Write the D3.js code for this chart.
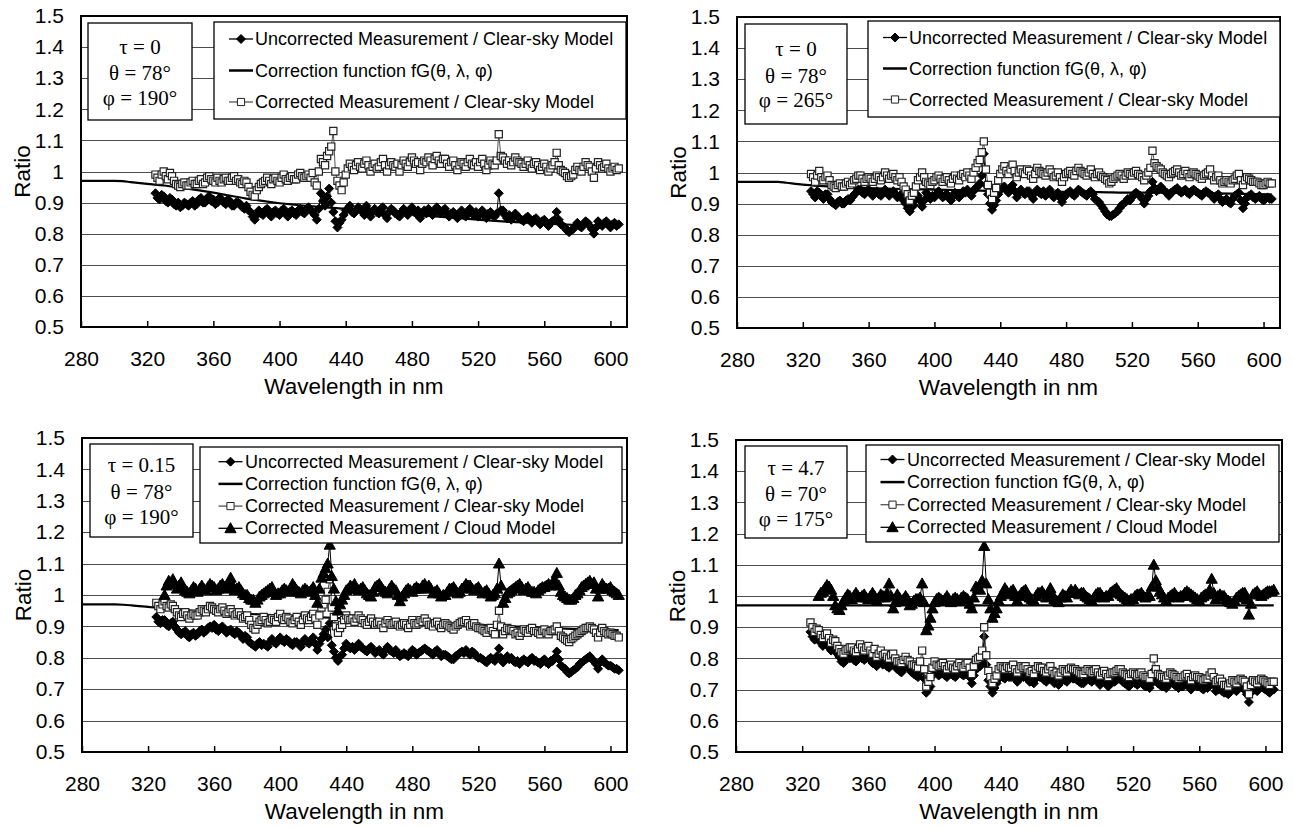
<!DOCTYPE html>
<html>
<head>
<meta charset="utf-8">
<script src="https://cdn.jsdelivr.net/npm/d3@7"></script>
<style>
  body { margin: 0; background: #fff; }
  svg text { font-family: "Liberation Sans", Arial, sans-serif; fill: #000; }
  svg text.serif { font-family: "Liberation Serif", "Times New Roman", serif; }
</style>
</head>
<body>
<svg id="chart" width="1294" height="827"></svg>
<script>
// measurement wavelengths (nm), 16 per row = 40 nm per row
const wavelengths = [
  325, 327.5, 330, 332.5, 335, 337.5, 340, 342.5, 345, 347.5, 350, 352.5, 355, 357.5, 360, 362.5,
  365, 367.5, 370, 372.5, 375, 377.5, 380, 382.5, 385, 387.5, 390, 392.5, 395, 397.5, 400, 402.5,
  405, 407.5, 410, 412.5, 415, 417.5, 420, 422.5, 425, 427.5, 430, 432.5, 435, 437.5, 440, 442.5,
  445, 447.5, 450, 452.5, 455, 457.5, 460, 462.5, 465, 467.5, 470, 472.5, 475, 477.5, 480, 482.5,
  485, 487.5, 490, 492.5, 495, 497.5, 500, 502.5, 505, 507.5, 510, 512.5, 515, 517.5, 520, 522.5,
  525, 527.5, 530, 532.5, 535, 537.5, 540, 542.5, 545, 547.5, 550, 552.5, 555, 557.5, 560, 562.5,
  565, 567.5, 570, 572.5, 575, 577.5, 580, 582.5, 585, 587.5, 590, 592.5, 595, 597.5, 600, 602.5,
  605];
// the in-between samples
const wavelengthsB = [
  326.25, 328.75, 331.25, 333.75, 336.25, 338.75, 341.25, 343.75, 346.25, 348.75, 351.25, 353.75, 356.25, 358.75, 361.25, 363.75,
  366.25, 368.75, 371.25, 373.75, 376.25, 378.75, 381.25, 383.75, 386.25, 388.75, 391.25, 393.75, 396.25, 398.75, 401.25, 403.75,
  406.25, 408.75, 411.25, 413.75, 416.25, 418.75, 421.25, 423.75, 426.25, 428.75, 431.25, 433.75, 436.25, 438.75, 441.25, 443.75,
  446.25, 448.75, 451.25, 453.75, 456.25, 458.75, 461.25, 463.75, 466.25, 468.75, 471.25, 473.75, 476.25, 478.75, 481.25, 483.75,
  486.25, 488.75, 491.25, 493.75, 496.25, 498.75, 501.25, 503.75, 506.25, 508.75, 511.25, 513.75, 516.25, 518.75, 521.25, 523.75,
  526.25, 528.75, 531.25, 533.75, 536.25, 538.75, 541.25, 543.75, 546.25, 548.75, 551.25, 553.75, 556.25, 558.75, 561.25, 563.75,
  566.25, 568.75, 571.25, 573.75, 576.25, 578.75, 581.25, 583.75, 586.25, 588.75, 591.25, 593.75, 596.25, 598.75, 601.25, 603.75];

// panel 1: tau = 0, theta = 78, phi = 190
const unc1 = [
  0.93, 0.91, 0.92, 0.9, 0.91, 0.89, 0.885, 0.9, 0.89, 0.905, 0.895, 0.915, 0.9, 0.92, 0.91, 0.9,
  0.91, 0.895, 0.905, 0.89, 0.9, 0.885, 0.89, 0.87, 0.845, 0.875, 0.86, 0.88, 0.855, 0.875, 0.86, 0.88,
  0.855, 0.875, 0.86, 0.88, 0.865, 0.885, 0.87, 0.845, 0.93, 0.89, 0.945, 0.87, 0.82, 0.845, 0.875, 0.89,
  0.865, 0.885, 0.87, 0.89, 0.855, 0.88, 0.865, 0.885, 0.85, 0.88, 0.865, 0.855, 0.88, 0.86, 0.885, 0.865,
  0.85, 0.875, 0.88, 0.86, 0.885, 0.865, 0.88, 0.855, 0.87, 0.85, 0.875, 0.855, 0.88, 0.86, 0.855, 0.875,
  0.85, 0.87, 0.855, 0.93, 0.875, 0.85, 0.845, 0.865, 0.85, 0.84, 0.855, 0.835, 0.85, 0.83, 0.845, 0.825,
  0.84, 0.87, 0.83, 0.82, 0.805, 0.815, 0.835, 0.82, 0.84, 0.825, 0.8, 0.84, 0.825, 0.84, 0.82, 0.835,
  0.83];
const unc1B = [
  0.915, 0.925, 0.905, 0.915, 0.895, 0.9, 0.89, 0.895, 0.9, 0.89, 0.91, 0.9, 0.915, 0.905, 0.895, 0.915,
  0.9, 0.91, 0.89, 0.9, 0.895, 0.88, 0.875, 0.855, 0.86, 0.865, 0.875, 0.865, 0.87, 0.865, 0.875, 0.865,
  0.87, 0.865, 0.875, 0.87, 0.88, 0.875, 0.86, 0.88, 0.905, 0.92, 0.9, 0.84, 0.835, 0.86, 0.88, 0.87,
  0.875, 0.88, 0.86, 0.875, 0.87, 0.87, 0.88, 0.86, 0.87, 0.875, 0.86, 0.87, 0.87, 0.875, 0.87, 0.875,
  0.865, 0.865, 0.87, 0.875, 0.87, 0.875, 0.865, 0.865, 0.86, 0.865, 0.865, 0.87, 0.865, 0.87, 0.865, 0.86,
  0.865, 0.86, 0.865, 0.875, 0.86, 0.86, 0.855, 0.855, 0.845, 0.85, 0.845, 0.845, 0.84, 0.84, 0.835, 0.835,
  0.845, 0.845, 0.825, 0.81, 0.81, 0.825, 0.825, 0.83, 0.835, 0.815, 0.82, 0.83, 0.835, 0.83, 0.83, 0.825];
const cor1 = [
  0.99, 0.97, 1.0, 0.975, 0.985, 0.96, 0.95, 0.965, 0.955, 0.97, 0.96, 0.975, 0.965, 0.985, 0.97, 0.98,
  0.965, 0.98, 0.97, 0.985, 0.975, 0.96, 0.965, 0.935, 0.92, 0.95, 0.965, 0.98, 0.96, 0.98, 0.965, 0.99,
  0.97, 0.985, 0.975, 0.995, 0.98, 0.99, 0.995, 0.955, 1.04, 1.02, 1.065, 1.13, 0.97, 0.94, 0.99, 1.025,
  1.005, 1.03, 1.01, 1.035, 1.0, 1.025, 1.015, 1.04, 1.0, 1.03, 1.015, 1.0, 1.035, 1.015, 1.045, 1.025,
  1.005, 1.035, 1.045, 1.02, 1.05, 1.025, 1.04, 1.015, 1.035, 1.005, 1.03, 1.015, 1.04, 1.02, 1.015, 1.04,
  1.005, 1.035, 1.02, 1.12, 1.045, 1.025, 1.02, 1.045, 1.03, 1.015, 1.035, 1.01, 1.03, 1.005, 1.025, 1.0,
  1.02, 1.06, 1.005, 0.995, 0.98, 0.99, 1.015, 1.0, 1.03, 1.015, 0.98, 1.03, 1.01, 1.025, 1.0, 1.015,
  1.01];
const cor1B = [
  0.98, 0.99, 0.985, 0.995, 0.97, 0.955, 0.96, 0.955, 0.965, 0.96, 0.97, 0.96, 0.98, 0.975, 0.965, 0.97,
  0.975, 0.97, 0.98, 0.97, 0.965, 0.97, 0.95, 0.925, 0.94, 0.96, 0.97, 0.97, 0.975, 0.97, 0.98, 0.975,
  0.98, 0.975, 0.99, 0.985, 0.985, 0.98, 0.965, 1.0, 1.03, 1.05, 1.08, 1.0, 0.955, 0.965, 1.01, 1.015,
  1.02, 1.015, 1.025, 1.02, 1.015, 1.01, 1.03, 1.02, 1.02, 1.02, 1.025, 1.02, 1.025, 1.03, 1.035, 1.03,
  1.025, 1.03, 1.035, 1.04, 1.035, 1.04, 1.025, 1.03, 1.02, 1.02, 1.025, 1.03, 1.025, 1.03, 1.03, 1.025,
  1.02, 1.025, 1.035, 1.05, 1.035, 1.035, 1.03, 1.035, 1.025, 1.025, 1.02, 1.025, 1.02, 1.015, 1.015, 1.01,
  1.03, 1.02, 1.0, 0.985, 0.985, 1.005, 1.005, 1.015, 1.02, 1.0, 1.01, 1.02, 1.015, 1.01, 1.01, 1.005];
const fgWl1 = [280, 300, 305, 310, 320, 330, 340, 360, 380, 400, 420, 440, 460, 480, 500, 520, 540, 560, 580, 605];
const fg1 = [0.97, 0.97, 0.969, 0.966, 0.96, 0.955, 0.948, 0.932, 0.913, 0.898, 0.888, 0.88, 0.87, 0.862, 0.853,
  0.845, 0.838, 0.833, 0.828, 0.823];

// panel 2: tau = 0, theta = 78, phi = 265
const unc2 = [
  0.94, 0.92, 0.935, 0.915, 0.93, 0.905, 0.895, 0.91, 0.9, 0.915, 0.92, 0.935, 0.945, 0.93, 0.945, 0.925,
  0.94, 0.925, 0.945, 0.925, 0.94, 0.92, 0.93, 0.9, 0.875, 0.895, 0.925, 0.89, 0.935, 0.915, 0.92, 0.94,
  0.92, 0.93, 0.91, 0.935, 0.92, 0.94, 0.945, 0.925, 0.95, 0.965, 1.06, 0.93, 0.88, 0.91, 0.945, 0.955,
  0.935, 0.96, 0.92, 0.945, 0.93, 0.94, 0.915, 0.945, 0.93, 0.925, 0.945, 0.92, 0.935, 0.905, 0.93, 0.94,
  0.925, 0.945, 0.935, 0.925, 0.94, 0.915, 0.905, 0.885, 0.865, 0.86, 0.87, 0.885, 0.9, 0.915, 0.92, 0.935,
  0.925, 0.9, 0.925, 0.97, 0.94, 0.955, 0.94, 0.925, 0.94, 0.95, 0.935, 0.945, 0.93, 0.945, 0.935, 0.925,
  0.94, 0.93, 0.915, 0.93, 0.905, 0.915, 0.9, 0.925, 0.935, 0.885, 0.92, 0.93, 0.915, 0.925, 0.91, 0.92,
  0.915];
const unc2B = [
  0.93, 0.94, 0.925, 0.93, 0.915, 0.9, 0.905, 0.9, 0.91, 0.91, 0.93, 0.945, 0.935, 0.94, 0.935, 0.935,
  0.93, 0.935, 0.935, 0.935, 0.93, 0.925, 0.91, 0.885, 0.89, 0.915, 0.91, 0.91, 0.925, 0.925, 0.93, 0.93,
  0.925, 0.92, 0.925, 0.925, 0.93, 0.935, 0.935, 0.94, 0.955, 0.99, 0.96, 0.9, 0.895, 0.93, 0.95, 0.945,
  0.95, 0.94, 0.935, 0.935, 0.94, 0.925, 0.935, 0.935, 0.94, 0.935, 0.93, 0.93, 0.92, 0.92, 0.935, 0.93,
  0.935, 0.94, 0.93, 0.935, 0.93, 0.91, 0.895, 0.875, 0.86, 0.865, 0.875, 0.895, 0.905, 0.91, 0.93, 0.93,
  0.915, 0.915, 0.94, 0.95, 0.945, 0.945, 0.935, 0.935, 0.945, 0.94, 0.94, 0.935, 0.94, 0.94, 0.93, 0.935,
  0.935, 0.925, 0.925, 0.915, 0.91, 0.905, 0.915, 0.93, 0.91, 0.9, 0.925, 0.92, 0.92, 0.915, 0.915, 0.915];
const cor2 = [
  0.995, 0.97, 1.005, 0.975, 0.99, 0.96, 0.95, 0.965, 0.955, 0.97, 0.965, 0.98, 0.99, 0.97, 0.985, 0.97,
  0.99, 0.975, 1.0, 0.98, 0.995, 0.975, 0.97, 0.945, 0.91, 0.935, 0.975, 1.0, 0.97, 0.96, 0.975, 0.99,
  0.97, 0.985, 0.965, 0.99, 0.975, 0.995, 1.0, 0.98, 1.015, 1.04, 1.1, 0.96, 0.915, 0.95, 0.995, 1.02,
  0.995, 1.025, 0.985, 1.01, 0.995, 1.005, 0.98, 1.015, 1.0, 0.99, 1.01, 0.985, 1.0, 0.97, 0.995, 1.005,
  0.99, 1.015, 1.0, 0.99, 1.01, 0.985, 1.0, 0.985, 0.975, 0.97, 0.985, 0.995, 0.98, 1.0, 0.99, 1.005,
  0.99, 0.975, 1.0, 1.07, 1.02, 1.01, 0.995, 0.985, 1.0, 1.01, 0.99, 1.005, 0.985, 1.0, 0.99, 0.98,
  0.995, 1.01, 0.975, 0.99, 0.965, 0.975, 0.965, 0.98, 0.995, 0.96, 0.985, 0.975, 0.97, 0.965, 0.96, 0.97,
  0.965];
const cor2B = [
  0.985, 0.99, 0.985, 0.985, 0.975, 0.955, 0.96, 0.955, 0.965, 0.96, 0.975, 0.99, 0.98, 0.98, 0.98, 0.98,
  0.985, 0.985, 0.99, 0.99, 0.985, 0.985, 0.955, 0.93, 0.925, 0.955, 0.985, 0.985, 0.965, 0.97, 0.985, 0.98,
  0.98, 0.975, 0.98, 0.98, 0.99, 0.985, 0.99, 1.0, 1.03, 1.065, 1.01, 0.935, 0.935, 0.975, 1.01, 1.005,
  1.01, 1.005, 1.0, 1.0, 1.01, 0.99, 0.995, 1.005, 0.995, 1.0, 1.0, 0.99, 0.985, 0.985, 1.0, 0.995,
  1.005, 1.005, 0.995, 1.0, 0.995, 0.995, 0.99, 0.98, 0.965, 0.98, 0.99, 0.99, 0.99, 0.995, 1.0, 0.995,
  0.985, 0.99, 1.015, 1.03, 1.015, 1.0, 0.99, 0.995, 1.005, 1.0, 0.995, 0.995, 0.995, 0.995, 0.985, 0.99,
  1.0, 0.99, 0.985, 0.975, 0.97, 0.97, 0.975, 0.99, 0.975, 0.975, 0.98, 0.97, 0.97, 0.96, 0.965, 0.965];
const fgWl2 = [280, 300, 305, 310, 320, 330, 340, 360, 380, 400, 420, 440, 460, 480, 500, 520, 540, 560, 580, 605];
const fg2 = [0.97, 0.97, 0.97, 0.967, 0.961, 0.957, 0.954, 0.95, 0.947, 0.945, 0.943, 0.94, 0.94, 0.938, 0.937,
  0.935, 0.935, 0.934, 0.932, 0.93];

// panel 3: tau = 0.15, theta = 78, phi = 190
const unc3 = [
  0.93, 0.91, 0.92, 0.9, 0.915, 0.89, 0.875, 0.885, 0.865, 0.88, 0.875, 0.89, 0.885, 0.9, 0.905, 0.885,
  0.9, 0.88, 0.89, 0.875, 0.88, 0.86, 0.865, 0.845, 0.835, 0.85, 0.845, 0.835, 0.86, 0.845, 0.865, 0.85,
  0.855, 0.84, 0.85, 0.835, 0.86, 0.845, 0.865, 0.825, 0.86, 0.89, 0.91, 0.82, 0.79, 0.81, 0.845, 0.83,
  0.825, 0.845, 0.83, 0.82, 0.835, 0.815, 0.825, 0.81, 0.835, 0.82, 0.825, 0.805, 0.815, 0.805, 0.825, 0.81,
  0.82, 0.83, 0.82, 0.81, 0.825, 0.805, 0.81, 0.8, 0.795, 0.81, 0.82, 0.825, 0.81, 0.815, 0.8, 0.795,
  0.785, 0.8, 0.79, 0.83, 0.785, 0.805, 0.8, 0.785, 0.78, 0.795, 0.785, 0.8, 0.79, 0.78, 0.795, 0.78,
  0.79, 0.82, 0.775, 0.765, 0.75, 0.76, 0.77, 0.785, 0.795, 0.805, 0.79, 0.765, 0.795, 0.78, 0.775, 0.765,
  0.76];
const unc3B = [
  0.915, 0.92, 0.905, 0.91, 0.9, 0.88, 0.88, 0.87, 0.875, 0.87, 0.885, 0.88, 0.895, 0.895, 0.89, 0.895,
  0.89, 0.885, 0.88, 0.885, 0.87, 0.87, 0.85, 0.84, 0.845, 0.84, 0.84, 0.85, 0.85, 0.855, 0.855, 0.86,
  0.845, 0.85, 0.845, 0.85, 0.85, 0.855, 0.845, 0.845, 0.875, 0.865, 0.84, 0.8, 0.805, 0.83, 0.835, 0.835,
  0.835, 0.835, 0.825, 0.83, 0.825, 0.82, 0.815, 0.825, 0.825, 0.815, 0.815, 0.81, 0.81, 0.815, 0.82, 0.815,
  0.825, 0.825, 0.815, 0.82, 0.815, 0.81, 0.805, 0.795, 0.805, 0.815, 0.815, 0.815, 0.82, 0.805, 0.8, 0.79,
  0.795, 0.795, 0.805, 0.8, 0.795, 0.795, 0.79, 0.79, 0.79, 0.79, 0.795, 0.79, 0.785, 0.79, 0.785, 0.79,
  0.8, 0.795, 0.77, 0.755, 0.755, 0.765, 0.78, 0.79, 0.8, 0.795, 0.78, 0.785, 0.785, 0.775, 0.77, 0.765];
const cor3 = [
  0.975, 0.955, 0.98, 0.96, 0.965, 0.945, 0.93, 0.945, 0.925, 0.94, 0.935, 0.955, 0.945, 0.965, 0.955, 0.945,
  0.96, 0.94, 0.955, 0.935, 0.945, 0.925, 0.935, 0.905, 0.89, 0.915, 0.93, 0.91, 0.925, 0.915, 0.94, 0.92,
  0.925, 0.91, 0.93, 0.905, 0.935, 0.92, 0.94, 0.905, 0.96, 0.985, 1.05, 0.93, 0.88, 0.905, 0.935, 0.92,
  0.915, 0.935, 0.92, 0.905, 0.925, 0.905, 0.915, 0.895, 0.92, 0.905, 0.915, 0.9, 0.91, 0.895, 0.92, 0.905,
  0.92, 0.925, 0.905, 0.9, 0.915, 0.895, 0.91, 0.9, 0.89, 0.905, 0.915, 0.92, 0.9, 0.91, 0.895, 0.89,
  0.88, 0.895, 0.875, 0.95, 0.875, 0.895, 0.89, 0.875, 0.87, 0.89, 0.88, 0.895, 0.885, 0.875, 0.89, 0.875,
  0.885, 0.9, 0.87, 0.86, 0.85, 0.865, 0.875, 0.885, 0.895, 0.9, 0.89, 0.865, 0.895, 0.88, 0.88, 0.87,
  0.865];
const cor3B = [
  0.965, 0.97, 0.965, 0.97, 0.955, 0.935, 0.94, 0.935, 0.935, 0.935, 0.945, 0.95, 0.955, 0.96, 0.95, 0.955,
  0.95, 0.945, 0.945, 0.94, 0.935, 0.93, 0.92, 0.895, 0.905, 0.92, 0.92, 0.915, 0.92, 0.93, 0.925, 0.93,
  0.915, 0.92, 0.915, 0.92, 0.925, 0.93, 0.925, 0.935, 0.97, 1.01, 0.96, 0.9, 0.895, 0.92, 0.925, 0.925,
  0.925, 0.925, 0.91, 0.915, 0.915, 0.91, 0.905, 0.91, 0.91, 0.91, 0.905, 0.905, 0.905, 0.905, 0.91, 0.91,
  0.915, 0.915, 0.905, 0.91, 0.905, 0.905, 0.905, 0.895, 0.9, 0.91, 0.915, 0.91, 0.905, 0.9, 0.895, 0.885,
  0.89, 0.885, 0.905, 0.9, 0.885, 0.89, 0.885, 0.88, 0.88, 0.885, 0.89, 0.885, 0.88, 0.885, 0.88, 0.885,
  0.89, 0.885, 0.865, 0.855, 0.86, 0.87, 0.88, 0.89, 0.895, 0.895, 0.88, 0.88, 0.885, 0.875, 0.875, 0.87];
const cloud3 = [
  null, null, 1.0, 1.045, 1.05, 1.02, 1.04, 1.015, 1.005, 1.025, 1.01, 1.03, 1.015, 1.035, 1.025, 1.02,
  1.035, 1.02, 1.055, 1.015, 1.025, 1.005, 1.0, 0.985, 0.975, 0.995, 1.005, 1.015, 1.025, 1.0, 1.005, 1.02,
  1.01, 1.035, 1.015, 1.005, 1.02, 1.01, 1.025, 0.975, 1.055, 1.085, 1.16, 1.02, 0.95, 0.985, 1.015, 1.03,
  1.035, 1.015, 1.025, 1.005, 0.995, 1.025, 1.035, 1.015, 1.005, 1.03, 1.015, 0.98, 1.005, 1.02, 1.01, 1.025,
  1.02, 1.035, 1.03, 1.005, 1.015, 0.995, 1.0, 1.02, 1.025, 1.005, 1.02, 1.035, 1.03, 1.015, 1.025, 1.005,
  1.015, 0.995, 1.005, 1.1, 0.975, 1.005, 1.015, 1.025, 1.035, 1.015, 1.025, 1.01, 1.005, 1.02, 1.025, 1.035,
  1.04, 1.07, 1.01, 0.995, 0.985, 0.99, 1.005, 1.025, 1.035, 1.045, 1.04, 0.995, 1.035, 1.02, 1.025, 1.01,
  1.0];
const cloud3B = [
  null, null, 1.03, 1.04, 1.035, 1.03, 1.025, 1.01, 1.015, 1.02, 1.02, 1.02, 1.025, 1.03, 1.015, 1.03,
  1.025, 1.035, 1.03, 1.02, 1.015, 1.0, 0.99, 0.985, 0.985, 1.0, 1.01, 1.02, 1.01, 1.005, 1.015, 1.015,
  1.02, 1.025, 1.01, 1.015, 1.015, 1.015, 1.0, 1.02, 1.07, 1.1, 1.06, 0.98, 0.97, 1.0, 1.02, 1.025,
  1.02, 1.02, 1.015, 1.0, 1.01, 1.03, 1.025, 1.01, 1.02, 1.02, 1.0, 0.995, 1.015, 1.015, 1.02, 1.02,
  1.03, 1.025, 1.02, 1.01, 1.005, 1.0, 1.01, 1.02, 1.015, 1.01, 1.025, 1.03, 1.02, 1.02, 1.015, 1.01,
  1.005, 1.0, 1.02, 1.03, 0.99, 1.01, 1.02, 1.03, 1.025, 1.02, 1.015, 1.01, 1.015, 1.025, 1.03, 1.03,
  1.045, 1.03, 1.0, 0.99, 0.985, 1.0, 1.015, 1.03, 1.04, 1.035, 1.02, 1.02, 1.025, 1.02, 1.015, 1.005];
const fgWl3 = [280, 300, 305, 310, 320, 330, 340, 360, 380, 400, 420, 440, 460, 480, 500, 520, 540, 560, 580, 605];
const fg3 = [0.97, 0.97, 0.969, 0.967, 0.962, 0.957, 0.953, 0.945, 0.94, 0.935, 0.93, 0.925, 0.92, 0.915, 0.91,
  0.905, 0.9, 0.895, 0.892, 0.888];

// panel 4: tau = 4.7, theta = 70, phi = 175
const unc4 = [
  0.885, 0.86, 0.865, 0.84, 0.855, 0.825, 0.825, 0.805, 0.785, 0.8, 0.805, 0.79, 0.81, 0.795, 0.805, 0.785,
  0.775, 0.79, 0.785, 0.77, 0.785, 0.765, 0.755, 0.775, 0.765, 0.75, 0.74, 0.765, 0.69, 0.71, 0.765, 0.745,
  0.755, 0.74, 0.75, 0.74, 0.755, 0.745, 0.755, 0.72, 0.765, 0.775, 0.87, 0.73, 0.69, 0.72, 0.745, 0.735,
  0.74, 0.745, 0.725, 0.745, 0.745, 0.725, 0.72, 0.745, 0.74, 0.725, 0.745, 0.72, 0.715, 0.735, 0.725, 0.74,
  0.735, 0.725, 0.72, 0.735, 0.725, 0.735, 0.715, 0.73, 0.71, 0.725, 0.73, 0.735, 0.72, 0.71, 0.725, 0.715,
  0.725, 0.71, 0.705, 0.76, 0.72, 0.71, 0.705, 0.725, 0.715, 0.705, 0.71, 0.72, 0.7, 0.715, 0.71, 0.7,
  0.705, 0.74, 0.695, 0.705, 0.69, 0.685, 0.705, 0.695, 0.71, 0.7, 0.66, 0.705, 0.695, 0.71, 0.7, 0.69,
  0.7];
const unc4B = [
  0.87, 0.875, 0.85, 0.85, 0.835, 0.835, 0.815, 0.79, 0.795, 0.8, 0.795, 0.8, 0.8, 0.8, 0.795, 0.795,
  0.785, 0.78, 0.775, 0.78, 0.775, 0.76, 0.765, 0.77, 0.755, 0.745, 0.755, 0.735, 0.7, 0.745, 0.755, 0.75,
  0.745, 0.75, 0.745, 0.75, 0.75, 0.75, 0.74, 0.745, 0.77, 0.79, 0.78, 0.71, 0.705, 0.735, 0.74, 0.745,
  0.74, 0.735, 0.735, 0.74, 0.735, 0.73, 0.735, 0.74, 0.73, 0.735, 0.73, 0.725, 0.725, 0.73, 0.735, 0.735,
  0.73, 0.72, 0.73, 0.73, 0.73, 0.725, 0.725, 0.72, 0.72, 0.725, 0.735, 0.725, 0.715, 0.72, 0.72, 0.72,
  0.715, 0.71, 0.72, 0.73, 0.715, 0.71, 0.715, 0.72, 0.71, 0.71, 0.715, 0.71, 0.71, 0.71, 0.705, 0.71,
  0.72, 0.715, 0.7, 0.695, 0.69, 0.695, 0.7, 0.705, 0.705, 0.685, 0.69, 0.7, 0.705, 0.705, 0.695, 0.7];
const cor4 = [
  0.915, 0.885, 0.89, 0.865, 0.88, 0.85, 0.855, 0.83, 0.815, 0.83, 0.835, 0.82, 0.845, 0.825, 0.84, 0.815,
  0.805, 0.825, 0.815, 0.8, 0.815, 0.79, 0.785, 0.805, 0.79, 0.78, 0.77, 0.825, 0.71, 0.74, 0.79, 0.775,
  0.785, 0.765, 0.78, 0.765, 0.785, 0.77, 0.785, 0.75, 0.795, 0.805, 0.9, 0.76, 0.72, 0.745, 0.775, 0.765,
  0.77, 0.78, 0.755, 0.775, 0.775, 0.755, 0.75, 0.775, 0.77, 0.755, 0.775, 0.75, 0.745, 0.765, 0.755, 0.77,
  0.765, 0.755, 0.75, 0.765, 0.755, 0.765, 0.745, 0.76, 0.74, 0.755, 0.76, 0.765, 0.75, 0.74, 0.755, 0.745,
  0.755, 0.74, 0.735, 0.8, 0.75, 0.74, 0.735, 0.755, 0.745, 0.735, 0.74, 0.75, 0.73, 0.745, 0.74, 0.73,
  0.735, 0.755, 0.725, 0.735, 0.715, 0.71, 0.73, 0.72, 0.735, 0.725, 0.685, 0.73, 0.72, 0.735, 0.725, 0.715,
  0.725];
const cor4B = [
  0.9, 0.895, 0.875, 0.875, 0.865, 0.86, 0.84, 0.82, 0.825, 0.835, 0.825, 0.83, 0.835, 0.835, 0.825, 0.83,
  0.815, 0.81, 0.805, 0.81, 0.8, 0.79, 0.795, 0.795, 0.78, 0.775, 0.79, 0.765, 0.725, 0.77, 0.78, 0.78,
  0.775, 0.775, 0.77, 0.775, 0.775, 0.78, 0.77, 0.775, 0.8, 0.825, 0.81, 0.74, 0.735, 0.765, 0.77, 0.775,
  0.77, 0.765, 0.765, 0.77, 0.765, 0.76, 0.765, 0.77, 0.76, 0.765, 0.76, 0.755, 0.755, 0.76, 0.765, 0.765,
  0.76, 0.75, 0.76, 0.76, 0.76, 0.755, 0.755, 0.75, 0.75, 0.755, 0.765, 0.755, 0.745, 0.75, 0.75, 0.75,
  0.745, 0.74, 0.75, 0.765, 0.745, 0.74, 0.745, 0.75, 0.74, 0.74, 0.745, 0.74, 0.74, 0.74, 0.735, 0.735,
  0.745, 0.74, 0.73, 0.725, 0.715, 0.72, 0.725, 0.73, 0.73, 0.71, 0.715, 0.725, 0.73, 0.73, 0.72, 0.725];
const cloud4 = [
  null, null, 1.0, 1.015, 1.035, 1.02, 0.97, 0.955, 0.985, 1.005, 0.99, 1.01, 0.995, 1.005, 0.99, 1.01,
  0.985, 1.005, 0.995, 1.04, 0.96, 1.005, 0.985, 1.0, 0.97, 0.985, 0.99, 1.04, 0.89, 0.93, 0.98, 0.995,
  0.985, 1.0, 0.98, 0.995, 0.985, 1.0, 0.99, 0.96, 1.03, 1.02, 1.16, 0.99, 0.93, 0.96, 1.0, 1.025,
  1.005, 1.02, 0.985, 1.01, 1.02, 0.995, 0.985, 1.01, 1.015, 0.995, 1.025, 0.99, 0.98, 1.005, 0.995, 1.02,
  1.02, 1.005, 1.01, 0.995, 0.985, 1.005, 1.01, 0.995, 1.0, 1.015, 1.025, 1.005, 0.995, 0.985, 0.99, 1.005,
  1.01, 0.995, 1.0, 1.1, 1.03, 1.005, 0.985, 1.0, 1.01, 0.995, 1.0, 1.015, 1.005, 0.995, 0.985, 1.0,
  1.005, 1.055, 0.99, 1.005, 1.0, 0.985, 0.975, 0.995, 1.005, 1.01, 0.94, 1.005, 1.015, 1.0, 1.01, 1.015,
  1.02];
const cloud4B = [
  null, null, 1.01, 1.025, 1.03, 1.0, 0.96, 0.97, 0.995, 1.0, 1.0, 1.0, 1.0, 0.995, 1.0, 1.0,
  0.995, 1.0, 1.01, 1.0, 0.98, 0.995, 0.99, 0.99, 0.975, 0.99, 0.995, 0.98, 0.905, 0.96, 0.99, 0.99,
  0.99, 0.99, 0.99, 0.99, 0.995, 0.995, 0.975, 0.995, 1.025, 1.05, 1.04, 0.96, 0.945, 0.985, 1.01, 1.015,
  1.015, 1.0, 1.0, 1.015, 1.005, 0.99, 1.0, 1.01, 1.005, 1.01, 1.005, 0.985, 0.995, 1.0, 1.01, 1.01,
  1.01, 1.01, 1.0, 0.99, 0.995, 1.01, 1.0, 1.0, 1.01, 1.02, 1.015, 1.0, 0.99, 0.99, 1.0, 1.005,
  1.0, 1.0, 1.03, 1.05, 1.015, 0.995, 0.995, 1.005, 1.0, 1.0, 1.01, 1.01, 1.0, 0.99, 0.995, 1.005,
  1.02, 1.01, 1.0, 1.0, 0.99, 0.98, 0.985, 1.0, 1.01, 0.99, 0.975, 1.01, 1.005, 1.005, 1.015, 1.015];
const fgWl4 = [280, 605];
const fg4 = [0.97, 0.97];

// axes
const xDomain = [280, 610];
const yDomain = [0.5, 1.5];
const xTicks = [280, 320, 360, 400, 440, 480, 520, 560, 600];
const yTicks = [0.5, 0.6, 0.7, 0.8, 0.9, 1.0, 1.1, 1.2, 1.3, 1.4, 1.5];
const gridValues = [0.6, 0.7, 0.8, 0.9, 1.0, 1.1, 1.2, 1.3, 1.4];

const legendLabels = ["Uncorrected Measurement / Clear-sky Model", "Correction function fG(θ, λ, φ)",
  "Corrected Measurement / Clear-sky Model", "Corrected Measurement / Cloud Model"];

const panels = [
  { left: 81, right: 627, top: 16, bottom: 327, unc: [unc1, unc1B], cor: [cor1, cor1B], cloud: null, fgWl: fgWl1, fg: fg1,
    info: { x: 88, y: 23, w: 104, h: 97, lines: ["τ = 0", "θ = 78°", "φ = 190°"], rows: [47, 73, 98] },
    legend: { x: 214, y: 22, w: 412, h: 97, symX: 241, textX: 255, row0: 39, step: 31.5 } },
  { left: 737, right: 1280, top: 17, bottom: 328, unc: [unc2, unc2B], cor: [cor2, cor2B], cloud: null, fgWl: fgWl2, fg: fg2,
    info: { x: 745, y: 24, w: 102, h: 100, lines: ["τ = 0", "θ = 78°", "φ = 265°"], rows: [49, 76, 100] },
    legend: { x: 868, y: 21, w: 412, h: 96, symX: 895, textX: 909, row0: 37.5, step: 31 } },
  { left: 82, right: 627, top: 438, bottom: 752, unc: [unc3, unc3B], cor: [cor3, cor3B], cloud: [cloud3, cloud3B], fgWl: fgWl3, fg: fg3,
    info: { x: 90, y: 444, w: 103, h: 93, lines: ["τ = 0.15", "θ = 78°", "φ = 190°"], rows: [465, 491.5, 516.5] },
    legend: { x: 200, y: 447, w: 422, h: 96, symX: 230.5, textX: 245, row0: 461.7, step: 22.2 } },
  { left: 736, right: 1282, top: 440, bottom: 752, unc: [unc4, unc4B], cor: [cor4, cor4B], cloud: [cloud4, cloud4B], fgWl: fgWl4, fg: fg4,
    info: { x: 745, y: 446, w: 102, h: 92, lines: ["τ = 4.7", "θ = 70°", "φ = 175°"], rows: [468, 494, 519] },
    legend: { x: 866, y: 445, w: 413, h: 97, symX: 892.5, textX: 907, row0: 459.5, step: 22.6 } }
];

const markers = {
  diamond: "M0,-4.5L4.5,0L0,4.5L-4.5,0Z",
  square: "M-3.6,-3.6H3.6V3.6H-3.6Z",
  triangle: "M0,-5.6L5.6,4.4H-5.6Z"
};

const svg = d3.select("#chart");
panels.forEach(drawPanel);

function drawPanel(p) {
  const x = d3.scaleLinear().domain(xDomain).range([p.left, p.right]);
  const y = d3.scaleLinear().domain(yDomain).range([p.bottom, p.top]);
  const g = svg.append("g");

  g.append("g").selectAll("line").data(gridValues).join("line")
    .attr("x1", p.left).attr("x2", p.right)
    .attr("y1", d => Math.round(y(d)) + 0.5).attr("y2", d => Math.round(y(d)) + 0.5)
    .attr("stroke", "#4d4d4d").attr("stroke-width", 1);

  const xAxis = d3.axisBottom(x).tickValues(xTicks).tickSizeInner(-6).tickSizeOuter(0).tickPadding(24.5);
  g.append("g").attr("transform", `translate(0,${p.bottom})`).call(xAxis)
    .attr("font-size", null).attr("font-family", null)
    .call(a => a.select(".domain").remove())
    .call(a => a.selectAll("line").attr("stroke", "#000").attr("stroke-width", 1.5))
    .call(a => a.selectAll("text").attr("font-size", 21).attr("fill", "#000"));

  const yAxis = d3.axisLeft(y).tickValues(yTicks).tickSize(0).tickPadding(17)
    .tickFormat(d => d === 1 ? "1" : d3.format(".1f")(d));
  g.append("g").attr("transform", `translate(${p.left},0)`).call(yAxis)
    .attr("font-size", null).attr("font-family", null)
    .call(a => a.select(".domain").remove())
    .call(a => a.selectAll("text").attr("font-size", 21).attr("fill", "#000"));

  g.append("rect").attr("x", p.left).attr("y", p.top)
    .attr("width", p.right - p.left).attr("height", p.bottom - p.top)
    .attr("fill", "none").attr("stroke", "#000").attr("stroke-width", 2);

  g.append("text").attr("transform", `translate(${p.left - 59},${(p.top + p.bottom) / 2}) rotate(-90)`)
    .attr("text-anchor", "middle").attr("dy", "0.36em").attr("font-size", 22.5).text("Ratio");
  g.append("text").attr("x", (p.left + p.right) / 2).attr("y", p.bottom + 66.5)
    .attr("text-anchor", "middle").attr("font-size", 22.5).text("Wavelength in nm");

  const line = d3.line().x(d => x(d.w)).y(d => y(d.v));
  // merge the main and in-between samples in wavelength order
  const pts = ([a, b]) => wavelengths.map((w, i) => ({ w, v: a[i] }))
    .concat(wavelengthsB.map((w, i) => ({ w, v: b[i] })))
    .filter(d => d.v != null)
    .sort((m, n) => m.w - n.w);
  const plot = g.append("g");

  function series(arrs, lineColor, shape, fill, stroke, sw) {
    const data = pts(arrs);
    plot.append("path").datum(data).attr("d", line)
      .attr("fill", "none").attr("stroke", lineColor).attr("stroke-width", 1);
    plot.append("g").selectAll("path").data(data).join("path")
      .attr("transform", d => `translate(${x(d.w)},${y(d.v)})`)
      .attr("d", markers[shape]).attr("fill", fill).attr("stroke", stroke).attr("stroke-width", sw);
  }

  series(p.unc, "#000", "diamond", "#000", "#000", 1);
  plot.append("path").datum(p.fgWl.map((w, i) => ({ w, v: p.fg[i] })))
    .attr("d", d3.line().curve(d3.curveMonotoneX).x(d => x(d.w)).y(d => y(d.v)))
    .attr("fill", "none").attr("stroke", "#000").attr("stroke-width", 2.2);
  series(p.cor, "#555", "square", "#fff", "#222", 1.2);
  if (p.cloud) series(p.cloud, "#000", "triangle", "#000", "#000", 1);

  // info box
  const inf = p.info;
  g.append("rect").attr("x", inf.x).attr("y", inf.y).attr("width", inf.w).attr("height", inf.h)
    .attr("fill", "#fff").attr("stroke", "#000").attr("stroke-width", 1.3);
  g.append("g").selectAll("text").data(inf.lines).join("text")
    .attr("class", "serif").attr("x", inf.x + inf.w / 2).attr("y", (d, i) => inf.rows[i] + 7)
    .attr("text-anchor", "middle").attr("font-size", 21).text(d => d);

  // legend
  const lg = p.legend;
  g.append("rect").attr("x", lg.x).attr("y", lg.y).attr("width", lg.w).attr("height", lg.h)
    .attr("fill", "#fff").attr("stroke", "#000").attr("stroke-width", 1.3);
  const entries = [
    { label: legendLabels[0], shape: "diamond", fill: "#000", stroke: "#000", line: "#000", lw: 1.3 },
    { label: legendLabels[1], shape: null, line: "#000", lw: 2.5 },
    { label: legendLabels[2], shape: "square", fill: "#fff", stroke: "#222", line: "#555", lw: 1.3 }
  ];
  if (p.cloud) entries.push({ label: legendLabels[3], shape: "triangle", fill: "#000", stroke: "#000", line: "#000", lw: 1.3 });
  const rows = g.append("g").selectAll("g").data(entries).join("g")
    .attr("transform", (d, i) => `translate(0,${lg.row0 + i * lg.step})`);
  rows.append("line").attr("x1", lg.symX - 12).attr("x2", lg.symX + 12)
    .attr("stroke", d => d.line).attr("stroke-width", d => d.lw);
  rows.filter(d => d.shape).append("path")
    .attr("transform", `translate(${lg.symX},0)`)
    .attr("d", d => markers[d.shape]).attr("fill", d => d.fill).attr("stroke", d => d.stroke);
  rows.append("text").attr("x", lg.textX).attr("y", 6).attr("font-size", 18).text(d => d.label);
}
</script>
</body>
</html>
